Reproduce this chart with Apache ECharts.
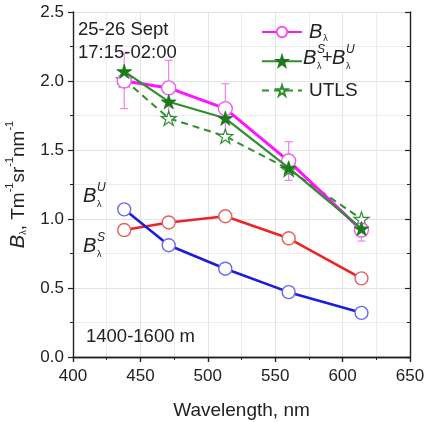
<!DOCTYPE html>
<html>
<head>
<meta charset="utf-8">
<script src="https://cdn.jsdelivr.net/npm/echarts@6/dist/echarts.min.js"></script>
<style>
  html, body { margin: 0; padding: 0; background: #fff; }
  #chart { width: 425px; height: 422px; }
</style>
</head>
<body>
<div id="chart"></div>
<script>
// Wavelengths (nm) of the measurement channels
const wavelengths = [438, 471, 513, 560, 614];
// Total backscatter B_lambda with its uncertainty
const bTotal = [2.00, 1.95, 1.80, 1.42, 0.92];
const bErr = [0.20, 0.20, 0.18, 0.14, 0.08];
// Sum of stratospheric and upper-tropospheric components
const bSum = [2.07, 1.85, 1.73, 1.37, 0.93];
// UTLS model
const bUtls = [2.01, 1.73, 1.60, 1.36, 1.00];
// Components
const bU = [1.07, 0.81, 0.64, 0.47, 0.32];
const bS = [0.92, 0.975, 1.02, 0.86, 0.57];
// Axis ticks
const xTicks = [400, 450, 500, 550, 600, 650];
const yTicks = [0.0, 0.5, 1.0, 1.5, 2.0, 2.5];

const FONT = '"Liberation Sans", Arial, Helvetica, sans-serif';
const TXT = '#222';
const STAR = 'path://M50 0L61.2 34.5L97.6 34.5L68.2 55.9L79.4 90.5L50 69.1L20.6 90.5L31.8 55.9L2.4 34.5L38.8 34.5Z';

const MAGENTA = '#ff14ff';
const GREEN = '#2f8f2f';
const DKGREEN = '#1c7a1c';
const BLUE = '#1c1cdc';
const RED = '#ee2424';

const pair = (ys) => wavelengths.map((w, i) => [w, ys[i]]);

// Italic B with a stacked superscript/subscript (e.g. B^S_lambda)
function bSymbol(x, y, sup) {
  const items = [
    { type: 'text', x: x, y: y, z: 20, style: { text: 'B', font: `italic 20px ${FONT}`, fill: TXT, verticalAlign: 'middle', textVerticalAlign: 'middle' } },
    { type: 'text', x: x + 14, y: y + 9, z: 20, style: { text: 'λ', font: `9px ${FONT}`, fill: TXT, verticalAlign: 'middle', textVerticalAlign: 'middle' } }
  ];
  if (sup) {
    items.push({ type: 'text', x: x + 14, y: y - 8, z: 20, style: { text: sup, font: `italic 12px ${FONT}`, fill: TXT, verticalAlign: 'middle', textVerticalAlign: 'middle' } });
  }
  return items;
}

const chart = echarts.init(document.getElementById('chart'), null, { renderer: 'canvas' });

const axisLine = { show: true, lineStyle: { color: TXT, width: 1.4 } };

const option = {
  animation: false,
  backgroundColor: '#fff',
  grid: { left: 73, right: 15, top: 12, bottom: 65, containLabel: false, outerBoundsMode: 'none' },
  legend: [
    { data: ['Bl'], left: 256, top: 17, itemWidth: 40, itemHeight: 13, orient: 'vertical',
      formatter: () => '{b|B}{s|λ}',
      textStyle: { rich: { b: { fontFamily: FONT, fontStyle: 'italic', fontSize: 20, color: TXT, padding: [0, 0, 0, 2] },
                           s: { fontFamily: FONT, fontSize: 9, color: TXT, padding: [14, 0, 0, 1] } } } },
    { data: ['SU'], left: 256, top: 50, itemWidth: 40, itemHeight: 13, orient: 'vertical',
      formatter: () => ' ', textStyle: { fontSize: 10 } },
    { data: ['UTLS'], left: 256, top: 76, itemWidth: 40, itemHeight: 13, orient: 'vertical',
      textStyle: { fontFamily: FONT, fontSize: 19, color: TXT, padding: [0, 0, 0, 2] } }
  ],
  xAxis: [
    { type: 'value', min: 400, max: 650, interval: 50, position: 'bottom',
      name: 'Wavelength, nm', nameLocation: 'middle', nameGap: 44,
      nameTextStyle: { fontFamily: FONT, fontSize: 19, color: TXT },
      axisLine: axisLine,
      axisTick: { show: true, inside: false, length: 5, lineStyle: { color: TXT, width: 1.2 } },
      minorTick: { show: true, splitNumber: 2, length: 3, lineStyle: { color: TXT, width: 1 } },
      axisLabel: { fontFamily: FONT, fontSize: 17, color: TXT, margin: 11,
                   formatter: (v) => xTicks.includes(v) ? String(v) : '' },
      splitLine: { show: true, lineStyle: { color: '#e4e4e4', width: 1 } },
      minorSplitLine: { show: true, lineStyle: { color: '#ececec', width: 1 } } },
    { type: 'value', min: 400, max: 650, interval: 50, position: 'top',
      axisLine: axisLine,
      axisTick: { show: true, inside: true, length: 5, lineStyle: { color: TXT, width: 1.2 } },
      minorTick: { show: true, splitNumber: 2, length: 3, lineStyle: { color: TXT, width: 1 } },
      axisLabel: { show: false }, splitLine: { show: false } }
  ],
  yAxis: [
    { type: 'value', min: 0, max: 2.5, interval: 0.5, position: 'left',
      name: '{b|B}{s|λ}{n|, Tm}{p|-1}{n|sr}{p|-1}{n|nm}{p|-1}',
      nameLocation: 'middle', nameGap: 45, nameRotate: 90,
      nameTextStyle: { rich: {
        b: { fontFamily: FONT, fontStyle: 'italic', fontSize: 20, color: TXT, verticalAlign: 'bottom', lineHeight: 24 },
        s: { fontFamily: FONT, fontSize: 9, color: TXT, verticalAlign: 'bottom', lineHeight: 16 },
        n: { fontFamily: FONT, fontSize: 19, color: TXT, verticalAlign: 'bottom', lineHeight: 24 },
        p: { fontFamily: FONT, fontSize: 11, color: TXT, verticalAlign: 'top', lineHeight: 11 }
      } },
      axisLine: axisLine,
      axisTick: { show: true, inside: false, length: 5, lineStyle: { color: TXT, width: 1.2 } },
      minorTick: { show: true, splitNumber: 2, length: 3, lineStyle: { color: TXT, width: 1 } },
      axisLabel: { fontFamily: FONT, fontSize: 17, color: TXT, margin: 9,
                   formatter: (v) => yTicks.some(t => Math.abs(t - v) < 1e-9) ? v.toFixed(1) : '' },
      splitLine: { show: true, lineStyle: { color: '#e4e4e4', width: 1 } },
      minorSplitLine: { show: true, lineStyle: { color: '#ececec', width: 1 } } },
    { type: 'value', min: 0, max: 2.5, interval: 0.5, position: 'right',
      axisLine: axisLine,
      axisTick: { show: true, inside: true, length: 5, lineStyle: { color: TXT, width: 1.2 } },
      minorTick: { show: true, splitNumber: 2, length: 3, lineStyle: { color: TXT, width: 1 } },
      axisLabel: { show: false }, splitLine: { show: false } }
  ],
  series: [
    // error bars of the total
    { name: 'Bl err', type: 'custom', xAxisIndex: 0, yAxisIndex: 0, z: 1,
      data: wavelengths.map((w, i) => [w, bTotal[i] - bErr[i], bTotal[i] + bErr[i]]),
      renderItem: (params, api) => {
        const top = api.coord([api.value(0), api.value(2)]);
        const bot = api.coord([api.value(0), api.value(1)]);
        const st = { stroke: '#f27ef2', lineWidth: 1.2 };
        const c = 4;
        return { type: 'group', children: [
          { type: 'line', shape: { x1: top[0], y1: top[1], x2: bot[0], y2: bot[1] }, style: st },
          { type: 'line', shape: { x1: top[0] - c, y1: top[1], x2: top[0] + c, y2: top[1] }, style: st },
          { type: 'line', shape: { x1: bot[0] - c, y1: bot[1], x2: bot[0] + c, y2: bot[1] }, style: st }
        ] };
      } },
    { name: 'BS', type: 'line', data: pair(bS), z: 3,
      lineStyle: { color: RED, width: 2.6 }, symbol: 'circle', symbolSize: 13,
      itemStyle: { color: '#fff', borderColor: '#e46060', borderWidth: 1.4 } },
    { name: 'BU', type: 'line', data: pair(bU), z: 3,
      lineStyle: { color: BLUE, width: 2.6 }, symbol: 'circle', symbolSize: 13,
      itemStyle: { color: '#fff', borderColor: '#6a6af0', borderWidth: 1.4 } },
    { name: 'UTLS', type: 'line', data: pair(bUtls), z: 4,
      lineStyle: { color: GREEN, width: 2, type: [7, 5] }, symbol: STAR, symbolSize: 15, symbolKeepAspect: true,
      itemStyle: { color: '#fff', borderColor: GREEN, borderWidth: 1.2 } },
    { name: 'Bl', type: 'line', data: pair(bTotal), z: 5,
      lineStyle: { color: MAGENTA, width: 3 }, symbol: 'circle', symbolSize: 14,
      itemStyle: { color: '#fff', borderColor: '#f05af0', borderWidth: 1.4 } },
    { name: 'SU', type: 'line', data: pair(bSum), z: 6,
      lineStyle: { color: GREEN, width: 2.2 }, symbol: STAR, symbolSize: 15, symbolKeepAspect: true,
      itemStyle: { color: DKGREEN, borderColor: DKGREEN, borderWidth: 0.8 } }
  ],
  graphic: [
    { type: 'text', left: 78, top: 18, z: 20, style: { text: '25-26 Sept\n17:15-02:00', font: `18.5px ${FONT}`, fill: TXT, lineHeight: 23 } },
    { type: 'text', left: 86, top: 327, z: 20, style: { text: '1400-1600 m', font: `18.5px ${FONT}`, fill: TXT } },
    { type: 'group', z: 20, children: [
      ...bSymbol(303, 58, 'S'),
      { type: 'text', x: 322, y: 58, z: 20, style: { text: '+', font: `18px ${FONT}`, fill: TXT, verticalAlign: 'middle', textVerticalAlign: 'middle' } },
      ...bSymbol(332, 58, 'U'),
      ...bSymbol(83, 196, 'U'),
      ...bSymbol(83, 246, 'S')
    ] }
  ]
};

chart.setOption(option);
</script>
</body>
</html>
